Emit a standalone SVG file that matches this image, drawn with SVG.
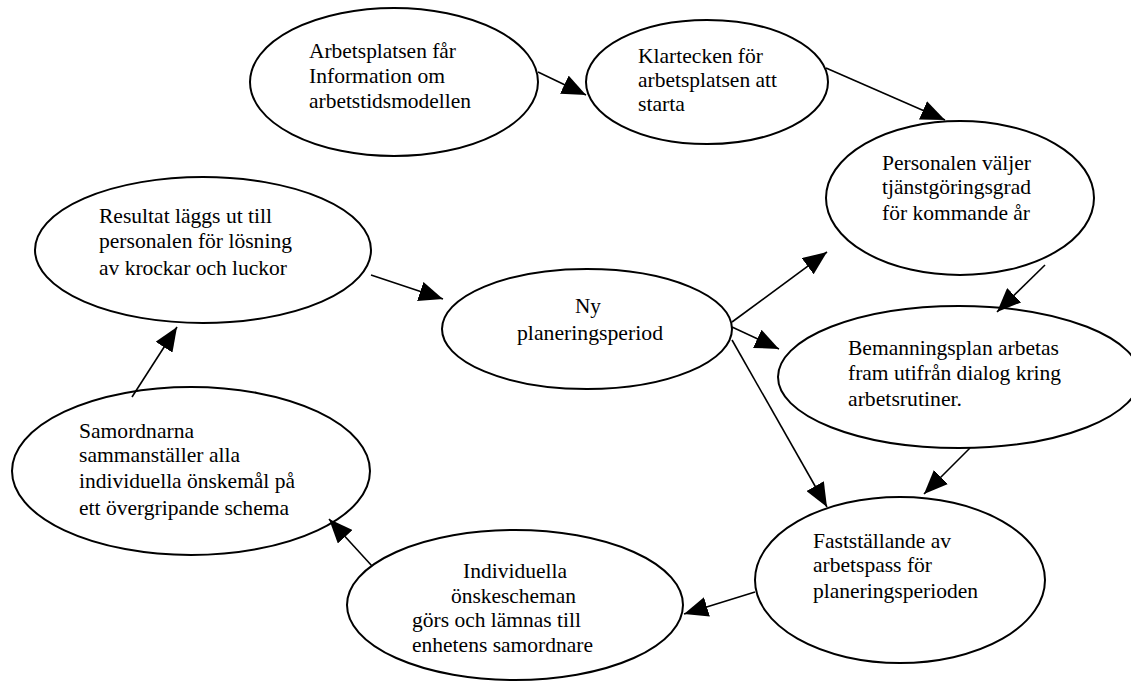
<svg xmlns="http://www.w3.org/2000/svg" width="1131" height="681" viewBox="0 0 1131 681">
<style>
.n ellipse{fill:#fff;stroke:#000;stroke-width:2}
.n text{font-family:"Liberation Serif","DejaVu Serif","Times New Roman",serif;font-size:21px;fill:#000}
.c line{stroke:#000;stroke-width:1.6;marker-end:url(#ah)}
</style>
<defs>
<marker id="ah" viewBox="0 0 24 20" refX="24" refY="10" markerWidth="24" markerHeight="20" markerUnits="userSpaceOnUse" orient="auto">
<path d="M0,0 L24,10 L0,20 z" fill="#000"/>
</marker>
</defs>
<rect width="1131" height="681" fill="#fff"/>
<g id="n1" class="n"><ellipse cx="394" cy="82" rx="144" ry="74"/>
<text x="309" y="58" textLength="147" lengthAdjust="spacingAndGlyphs">Arbetsplatsen får</text><text x="309" y="83" textLength="136" lengthAdjust="spacingAndGlyphs">Information om</text><text x="309" y="108" textLength="162" lengthAdjust="spacingAndGlyphs">arbetstidsmodellen</text></g>
<g id="n2" class="n"><ellipse cx="707" cy="82" rx="121" ry="62"/>
<text x="638" y="63" textLength="125" lengthAdjust="spacingAndGlyphs">Klartecken för</text><text x="638" y="87" textLength="139" lengthAdjust="spacingAndGlyphs">arbetsplatsen att</text><text x="638" y="111" textLength="47" lengthAdjust="spacingAndGlyphs">starta</text></g>
<g id="n3" class="n"><ellipse cx="960" cy="198" rx="134" ry="77"/>
<text x="882" y="170" textLength="149" lengthAdjust="spacingAndGlyphs">Personalen väljer</text><text x="882" y="194" textLength="149" lengthAdjust="spacingAndGlyphs">tjänstgöringsgrad</text><text x="882" y="220" textLength="148" lengthAdjust="spacingAndGlyphs">för kommande år</text></g>
<g id="n4" class="n"><ellipse cx="959" cy="377" rx="181" ry="71"/>
<text x="848" y="355" textLength="211" lengthAdjust="spacingAndGlyphs">Bemanningsplan arbetas</text><text x="848" y="380" textLength="213" lengthAdjust="spacingAndGlyphs">fram utifrån dialog kring</text><text x="848" y="406" textLength="114" lengthAdjust="spacingAndGlyphs">arbetsrutiner.</text></g>
<g id="n5" class="n"><ellipse cx="900" cy="580" rx="145" ry="83"/>
<text x="813" y="548" textLength="138" lengthAdjust="spacingAndGlyphs">Fastställande av</text><text x="813" y="572" textLength="119" lengthAdjust="spacingAndGlyphs">arbetspass för</text><text x="813" y="598" textLength="165" lengthAdjust="spacingAndGlyphs">planeringsperioden</text></g>
<g id="n6" class="n"><ellipse cx="515" cy="605" rx="168" ry="75"/>
<text x="463" y="578" textLength="104" lengthAdjust="spacingAndGlyphs">Individuella</text><text x="451" y="603" textLength="125" lengthAdjust="spacingAndGlyphs">önskescheman</text><text x="412" y="627" textLength="169" lengthAdjust="spacingAndGlyphs">görs och lämnas till</text><text x="412" y="652" textLength="181" lengthAdjust="spacingAndGlyphs">enhetens samordnare</text></g>
<g id="n7" class="n"><ellipse cx="191" cy="471" rx="179" ry="84"/>
<text x="79" y="438" textLength="115" lengthAdjust="spacingAndGlyphs">Samordnarna</text><text x="79" y="462" textLength="161" lengthAdjust="spacingAndGlyphs">sammanställer alla</text><text x="79" y="488" textLength="216" lengthAdjust="spacingAndGlyphs">individuella önskemål på</text><text x="79" y="515" textLength="210" lengthAdjust="spacingAndGlyphs">ett övergripande schema</text></g>
<g id="n8" class="n"><ellipse cx="203" cy="250" rx="168" ry="73"/>
<text x="99" y="223" textLength="173" lengthAdjust="spacingAndGlyphs">Resultat läggs ut till</text><text x="99" y="248" textLength="193" lengthAdjust="spacingAndGlyphs">personalen för lösning</text><text x="99" y="275" textLength="188" lengthAdjust="spacingAndGlyphs">av krockar och luckor</text></g>
<g id="n9" class="n"><ellipse cx="587" cy="329" rx="145" ry="60"/>
<text x="575" y="313" textLength="26" lengthAdjust="spacingAndGlyphs">Ny</text><text x="517" y="340" textLength="146" lengthAdjust="spacingAndGlyphs">planeringsperiod</text></g>
<g id="connectors" class="c">
<line x1="538" y1="72" x2="586" y2="95"/>
<line x1="826" y1="68" x2="945" y2="120"/>
<line x1="1045" y1="265" x2="997" y2="312"/>
<line x1="970" y1="448" x2="924" y2="494"/>
<line x1="755" y1="592" x2="684" y2="614"/>
<line x1="372" y1="566" x2="329" y2="519"/>
<line x1="132" y1="397" x2="177" y2="327"/>
<line x1="371" y1="275" x2="443" y2="299"/>
<line x1="732" y1="322" x2="827" y2="252"/>
<line x1="732" y1="327" x2="779" y2="349"/>
<line x1="732" y1="340" x2="827" y2="507"/>
</g>
</svg>
